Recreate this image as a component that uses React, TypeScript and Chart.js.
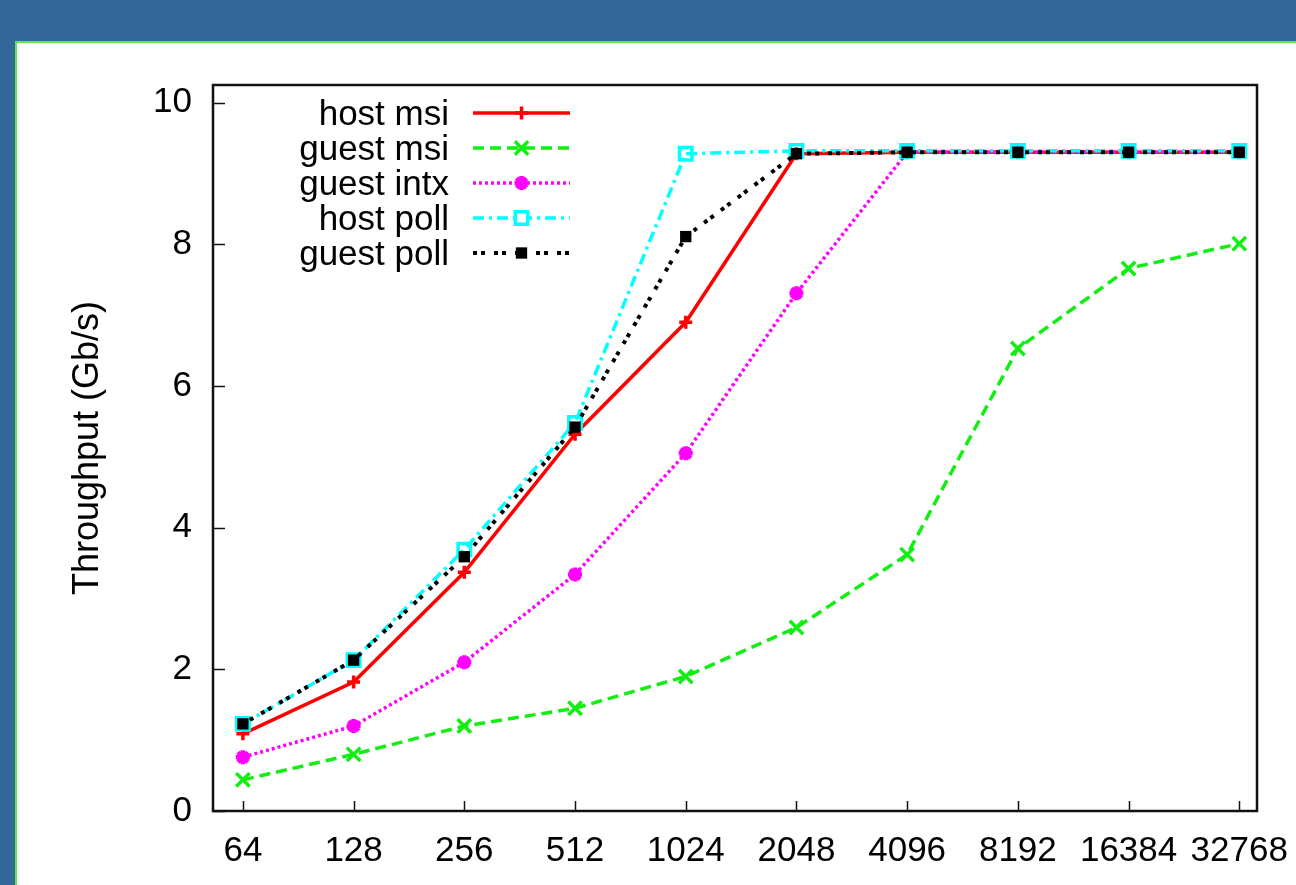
import React, { useEffect, useRef } from 'react';
import { Chart, registerables } from 'chart.js';
import { drawPoint } from 'chart.js/helpers';

Chart.register(...registerables);

// ---- data ----
const sizeLabels = ['64', '128', '256', '512', '1024', '2048', '4096', '8192', '16384', '32768'];
const hostMsi = [1.09, 1.82, 3.37, 5.32, 6.90, 9.28, 9.30, 9.30, 9.30, 9.30];
const guestMsi = [0.44, 0.80, 1.20, 1.45, 1.90, 2.59, 3.62, 6.53, 7.66, 8.01];
const guestIntx = [0.76, 1.20, 2.10, 3.34, 5.05, 7.31, 9.30, 9.30, 9.30, 9.30];
const hostPoll = [1.23, 2.13, 3.69, 5.48, 9.28, 9.32, 9.32, 9.32, 9.32, 9.32];
const guestPoll = [1.23, 2.13, 3.59, 5.42, 8.11, 9.28, 9.30, 9.30, 9.30, 9.30];
const seriesNames = ['host msi', 'guest msi', 'guest intx', 'host poll', 'guest poll'];
const yTickValues = [0, 2, 4, 6, 8, 10];
const yTitle = 'Throughput (Gb/s)';

const FONT_FAMILY = '"Liberation Sans", Arial, Helvetica, sans-serif';

const toPoints = (arr: number[]) => arr.map((y, i) => ({ x: i, y }));

export default function App() {
  const canvasRef = useRef<HTMLCanvasElement | null>(null);

  useEffect(() => {
    const canvas = canvasRef.current;
    if (!canvas) return;

    const styles = [
      { color: '#ff0000', width: 3.5, dash: [], point: 'cross', radius: 6.5, pbw: 3.5, bg: '#ff0000' },
      { color: '#11ee11', width: 3.5, dash: [11, 6], point: 'crossRot', radius: 9.5, pbw: 3.5, bg: '#11ee11' },
      { color: '#ff00ff', width: 3.5, dash: [3, 3], point: 'star', radius: 7, pbw: 4.5, bg: '#ff00ff' },
      { color: '#00ffff', width: 3.5, dash: [11, 5, 3, 5], point: 'rect', radius: 8.8, pbw: 3.5, bg: 'rgba(0,0,0,0)' },
      { color: '#000000', width: 4, dash: [4, 4, 4, 9], point: 'rect', radius: 8, pbw: 0, bg: '#000000' },
    ];
    const values = [hostMsi, guestMsi, guestIntx, hostPoll, guestPoll];

    const datasets = values.map((vals, i) => ({
      label: seriesNames[i],
      data: toPoints(vals),
      borderColor: styles[i].color,
      backgroundColor: styles[i].bg,
      borderWidth: styles[i].width,
      borderDash: styles[i].dash,
      borderCapStyle: 'butt',
      pointStyle: styles[i].point,
      pointRadius: styles[i].radius,
      pointBorderWidth: styles[i].pbw,
      pointBorderColor: styles[i].color,
      pointBackgroundColor: styles[i].bg,
      tension: 0,
      fill: false,
      order: 5 - i,
    }));

    const framePlugin = {
      id: 'frame',
      beforeDraw(chart: any) {
        const ctx = chart.ctx;
        const W = chart.width;
        const H = chart.height;
        ctx.save();
        ctx.fillStyle = '#336699';
        ctx.fillRect(0, 0, W, H);
        ctx.fillStyle = '#ffffff';
        ctx.fillRect(15, 41, W - 15, H - 41);
        ctx.fillStyle = '#5ae84a';
        ctx.fillRect(15, 41, W - 15, 2);
        ctx.fillRect(15, 41, 2, H - 41);
        ctx.restore();
      },
      afterDraw(chart: any) {
        const ctx = chart.ctx;
        const a = chart.chartArea;
        const xs = chart.scales.x;
        const ys = chart.scales.y;
        ctx.save();
        // plot border
        ctx.strokeStyle = '#111111';
        ctx.lineWidth = 2.5;
        ctx.setLineDash([]);
        ctx.strokeRect(a.left, a.top, a.right - a.left, a.bottom - a.top);
        // inward ticks
        ctx.beginPath();
        yTickValues.forEach((v) => {
          const py = Math.round(ys.getPixelForValue(v)) + 0.5;
          ctx.moveTo(a.left, py);
          ctx.lineTo(a.left + 12, py);
        });
        sizeLabels.forEach((_, i) => {
          const px = Math.round(xs.getPixelForValue(i)) + 0.5;
          ctx.moveTo(px, a.bottom);
          ctx.lineTo(px, a.bottom - 10);
        });
        ctx.lineWidth = 1.5;
        ctx.stroke();

        // y title
        ctx.fillStyle = '#000000';
        ctx.font = `36px ${FONT_FAMILY}`;
        ctx.save();
        ctx.translate(98, (a.top + a.bottom) / 2);
        ctx.rotate(-Math.PI / 2);
        ctx.textAlign = 'center';
        ctx.textBaseline = 'alphabetic';
        ctx.fillText(yTitle, 0, 0);
        ctx.restore();

        // legend
        const rowY0 = a.top + 28;
        const rowStep = 35;
        const textRight = a.left + 236;
        const lineX0 = a.left + 260;
        const lineX1 = a.left + 357;
        const markX = (lineX0 + lineX1) / 2;
        chart.data.datasets.forEach((ds: any, i: number) => {
          const y = rowY0 + rowStep * i;
          ctx.fillStyle = '#000000';
          ctx.font = `35px ${FONT_FAMILY}`;
          ctx.textAlign = 'right';
          ctx.textBaseline = 'alphabetic';
          ctx.fillText(ds.label, textRight, y + 12);
          ctx.beginPath();
          ctx.strokeStyle = ds.borderColor;
          ctx.lineWidth = ds.borderWidth;
          ctx.lineCap = 'butt';
          ctx.setLineDash(ds.borderDash || []);
          ctx.moveTo(lineX0, y);
          ctx.lineTo(lineX1, y);
          ctx.stroke();
          ctx.setLineDash([]);
          ctx.strokeStyle = ds.pointBorderColor;
          ctx.fillStyle = ds.pointBackgroundColor;
          ctx.lineWidth = ds.pointBorderWidth;
          if (ds.pointBackgroundColor === 'rgba(0,0,0,0)') {
            ctx.fillStyle = '#ffffff';
          }
          drawPoint(ctx, { pointStyle: ds.pointStyle, radius: ds.pointRadius, rotation: 0, borderWidth: ds.pointBorderWidth }, markX, y);
        });
        ctx.restore();
      },
    };

    const tickFont = { family: FONT_FAMILY, size: 35 };

    const chart = new Chart(canvas, {
      type: 'line',
      data: { datasets: datasets as any },
      options: {
        animation: false,
        responsive: false,
        devicePixelRatio: 1,
        layout: { padding: { left: 0, top: 85, right: 39, bottom: 14 } },
        plugins: { legend: { display: false }, tooltip: { enabled: false } },
        scales: {
          x: {
            type: 'linear',
            min: -0.27,
            max: 9.16,
            afterBuildTicks: (s: any) => {
              s.ticks = sizeLabels.map((_, i) => ({ value: i }));
            },
            afterFit: (s: any) => {
              s.height = 60;
              s.paddingLeft = 0;
              s.paddingRight = 0;
            },
            ticks: {
              autoSkip: false,
              maxRotation: 0,
              minRotation: 0,
              padding: 19,
              color: '#000000',
              font: tickFont,
              callback: (v: any) => sizeLabels[Math.round(v)] ?? '',
            },
            grid: { display: false, drawTicks: false },
            border: { display: false },
          },
          y: {
            type: 'linear',
            min: 0,
            max: 10.25,
            afterBuildTicks: (s: any) => {
              s.ticks = yTickValues.map((v) => ({ value: v }));
            },
            afterFit: (s: any) => {
              s.width = 213;
              s.paddingTop = 0;
              s.paddingBottom = 0;
            },
            ticks: {
              padding: 21,
              color: '#000000',
              font: tickFont,
              callback: (v: any) => String(v),
            },
            grid: { display: false, drawTicks: false },
            border: { display: false },
          },
        },
      } as any,
      plugins: [framePlugin],
    });

    return () => chart.destroy();
  }, []);

  return (
    <canvas
      ref={canvasRef}
      width={1296}
      height={885}
      style={{ position: 'fixed', left: 0, top: 0, width: 1296, height: 885, display: 'block' }}
    />
  );
}
